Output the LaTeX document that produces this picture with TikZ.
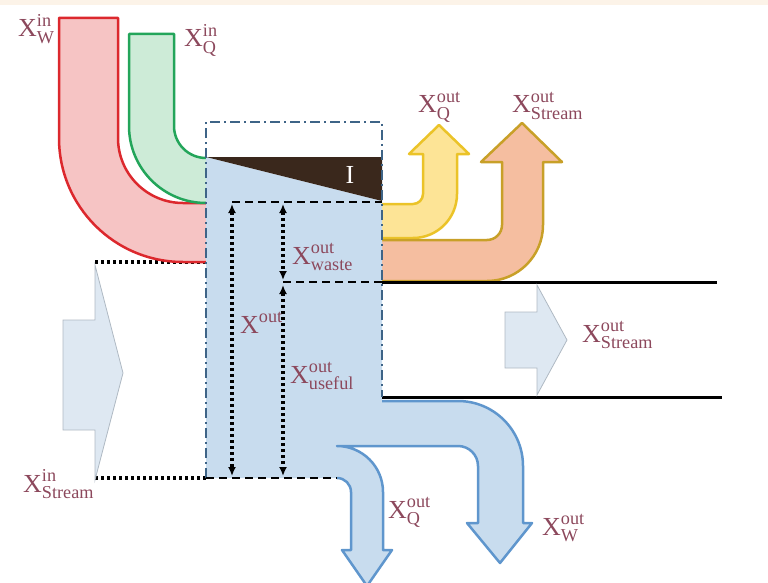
\documentclass[tikz,border=0pt]{standalone}
\usepackage{fontspec}
\setmainfont{Liberation Serif}
\usepackage{amsmath}
\usetikzlibrary{arrows.meta}

\definecolor{labelcol}{RGB}{140,72,92}
\definecolor{redline}{RGB}{220,40,45}
\definecolor{redfill}{RGB}{246,196,196}
\definecolor{greenline}{RGB}{35,165,90}
\definecolor{greenfill}{RGB}{205,235,215}
\definecolor{blueline}{RGB}{95,150,205}
\definecolor{bluefill}{RGB}{200,220,238}
\definecolor{yellowline}{RGB}{235,195,40}
\definecolor{yellowfill}{RGB}{253,228,150}
\definecolor{orangeline}{RGB}{200,160,40}
\definecolor{orangefill}{RGB}{245,190,160}
\definecolor{streamfill}{RGB}{222,232,242}
\definecolor{streamline}{RGB}{175,185,195}
\definecolor{boxcol}{RGB}{62,100,135}
\definecolor{woodcol}{RGB}{58,40,28}
\definecolor{bandcol}{RGB}{252,243,232}

\newcommand{\xlab}[2]{$\text{X}^{\text{#1}}_{\text{#2}}$}

\begin{document}
\begin{tikzpicture}[x = 1pt, y = 1pt, yscale = -1,
	every node/.style = {font = \fontsize{26}{26}\selectfont, text = labelcol, inner sep = 0pt},
	pipe/.style = {line width = 2.5pt, line join = round},
	streamarrow/.style = {fill = streamfill, draw = streamline, line width = 0.8pt},
	dots/.style = {line width = 3.2pt, dash pattern = on 3pt off 3pt},
	dimarrow/.style = {dots, > = {Latex[length = 9pt, width = 8pt]}, <->},
	cutline/.style = {line width = 2.5pt, dash pattern = on 8pt off 5pt},
	border/.style = {line width = 2.5pt, draw = boxcol, dash pattern = on 10pt off 4pt on 2pt off 4pt}]
	
	\useasboundingbox (0, 0) rectangle (768, 583);
	\clip (0, 0) rectangle (768, 583);
	
	% Top band
	
	\fill [bandcol] (0, 0) rectangle (768, 5);
	
	% Incoming stream
	
	\draw [dots] (95, 262) -- (206, 262);
	\draw [dots] (95, 478) -- (206, 478);
	\draw [streamarrow] (63, 320) -- (95, 320) -- (95, 265) -- (123, 373) -- (95, 480) -- (95, 430) -- (63, 430) -- cycle;
	
	% Work and heat in
	
	\draw [pipe, draw = redline, fill = redfill] (206, 203) -- (183, 203) arc [start angle = 90, end angle = 180, radius = 65pt] -- (118, 18) -- (59, 18) -- (59, 138) arc [start angle = 180, end angle = 90, radius = 124pt] -- (206, 262);
	\draw [pipe, draw = greenline, fill = greenfill] (206, 158) arc [start angle = 90, end angle = 180, radius = 32pt] -- (174, 34) -- (129, 34) -- (129, 126) arc [start angle = 180, end angle = 90, radius = 77pt];
	
	% Heat and stream out at the top
	
	\draw [pipe, draw = yellowline, fill = yellowfill] (382, 204) -- (413, 204) arc [start angle = 90, end angle = 0, radius = 10pt] -- (423, 154) -- (409, 154) -- (439, 125) -- (469, 154) -- (457, 154) -- (457, 194) arc [start angle = 0, end angle = 90, radius = 44pt] -- (382, 238);
	\draw [pipe, draw = orangeline, fill = orangefill] (382, 240) -- (487, 240) arc [start angle = 90, end angle = 0, radius = 15pt] -- (502, 162) -- (481, 162) -- (522, 123) -- (562, 162) -- (543, 162) -- (543, 225) arc [start angle = 0, end angle = 90, radius = 56pt] -- (382, 281);
	
	% The system and its outlets
	
	\fill [bluefill] (206, 157) -- (382, 201) -- (382, 401) -- (458, 401) arc [start angle = -90, end angle = 0, radius = 65pt] -- (523, 523) -- (532, 523) -- (500, 563) -- (467, 523) -- (478, 523) -- (478, 466) arc [start angle = 0, end angle = -90, radius = 20pt] -- (337, 446) arc [start angle = -90, end angle = 0, radius = 46pt] -- (383, 550) -- (392, 550) -- (367, 586) -- (342, 550) -- (351, 550) -- (351, 492) arc [start angle = 0, end angle = -90, radius = 14pt] -- (337, 478) -- (206, 478) -- cycle;
	\draw [pipe, draw = blueline] (382, 401) -- (458, 401) arc [start angle = -90, end angle = 0, radius = 65pt] -- (523, 523) -- (532, 523) -- (500, 563) -- (467, 523) -- (478, 523) -- (478, 466) arc [start angle = 0, end angle = -90, radius = 20pt] -- (337, 446) arc [start angle = -90, end angle = 0, radius = 46pt] -- (383, 550) -- (392, 550) -- (367, 586) -- (342, 550) -- (351, 550) -- (351, 492) arc [start angle = 0, end angle = -90, radius = 14pt] -- (337, 478);
	
	% Irreversibility
	
	\fill [woodcol] (206, 157) -- (382, 157) -- (382, 201) -- cycle;
	\node [text = white] (irr) at (350, 175) {I};
	
	% Outgoing stream
	
	\draw [line width = 3pt] (382, 282) -- (717, 282);
	\draw [line width = 3pt] (382, 397) -- (722, 397);
	\draw [streamarrow] (505, 312) -- (537, 312) -- (537, 285) -- (567, 340) -- (537, 395) -- (537, 368) -- (505, 368) -- cycle;
	
	% Boundary
	
	\draw [border] (206, 478) -- (206, 122) -- (382, 122) -- (382, 397);
	
	% Splitting of the outlet
	
	\draw [cutline] (232, 202) -- (382, 202);
	\draw [cutline] (283, 282) -- (382, 282);
	\draw [cutline] (206, 478) -- (337, 478);
	
	\coordinate (outtop) at (232, 204);
	\coordinate (outbot) at (232, 476);
	\coordinate (wastetop) at (283, 204);
	\coordinate (wastebot) at (283, 280);
	\coordinate (usefultop) at (283, 285);
	\coordinate (usefulbot) at (283, 476);
	
	\draw [dimarrow] (outtop) -- (outbot);
	\draw [dimarrow] (wastetop) -- (wastebot);
	\draw [dimarrow] (usefultop) -- (usefulbot);
	
	% Labels
	
	\node [anchor = base west] (wIn) at (18, 37) {\xlab{in}{W}};
	\node [anchor = base west] (qIn) at (184, 47) {\xlab{in}{Q}};
	\node [anchor = base west] (qOutTop) at (418, 113) {\xlab{out}{Q}};
	\node [anchor = base west] (streamOutTop) at (512, 113) {\xlab{out}{Stream}};
	\node [anchor = base west] (wasteOut) at (292, 264) {\xlab{out}{waste}};
	\node [anchor = base west] (xOut) at (240, 333) {$\text{X}^{\text{out}}$};
	\node [anchor = base west] (usefulOut) at (290, 383) {\xlab{out}{useful}};
	\node [anchor = base west] (streamIn) at (23, 492) {\xlab{in}{Stream}};
	\node [anchor = base west] (streamOut) at (582, 342) {\xlab{out}{Stream}};
	\node [anchor = base west] (qOutBot) at (388, 518) {\xlab{out}{Q}};
	\node [anchor = base west] (wOutBot) at (542, 535) {\xlab{out}{W}};

\end{tikzpicture}
\end{document}
